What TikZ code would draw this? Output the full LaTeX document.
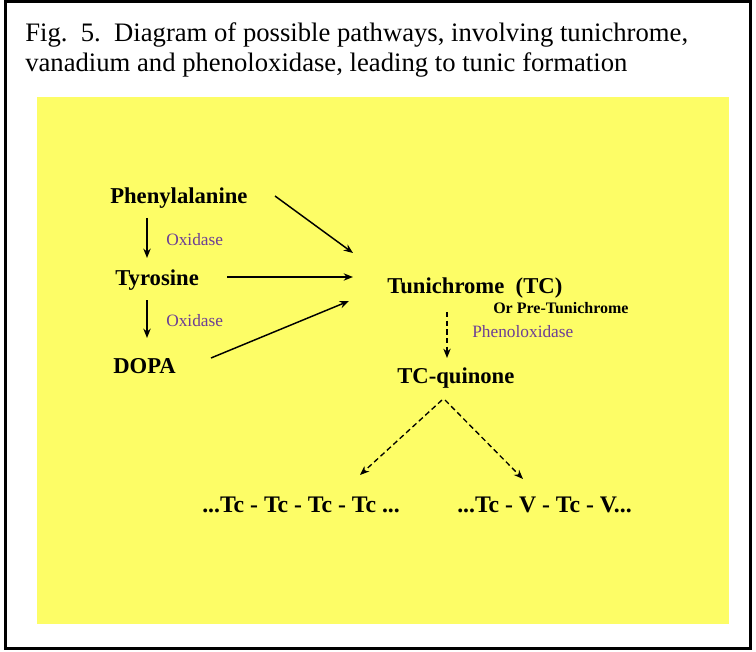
\documentclass[tikz,border=0pt]{standalone}
\usepackage{fontspec}
\setmainfont{Liberation Serif}
\usetikzlibrary{arrows.meta}

\definecolor{slideyellow}{RGB}{253,253,102}
\definecolor{enzpurple}{RGB}{108,62,150}

\begin{document}
\begin{tikzpicture}[
  x=0.75pt, y=-0.75pt,
  >={Stealth[length=7pt,width=5.5pt]},
  caption/.style={font=\fontsize{20}{22}\selectfont, anchor=base west, inner sep=0pt},
  cpd/.style={font=\fontsize{17}{20}\selectfont\bfseries, anchor=base west, inner sep=0pt},
  chain/.style={font=\fontsize{17.8}{20}\selectfont\bfseries, anchor=base west, inner sep=0pt},
  note/.style={font=\fontsize{12}{14}\selectfont\bfseries, anchor=base west, inner sep=0pt},
  enz/.style={font=\fontsize{13}{15}\selectfont, text=enzpurple, anchor=base west, inner sep=0pt},
  flow/.style={->, line width=1.1pt},
  maybe/.style={->, line width=1pt, dash pattern=on 4pt off 2.5pt}
]
  \useasboundingbox (0,0) rectangle (756,652);
  \draw[line width=2.25pt] (5.5,1.5) rectangle (750.5,648.5);

  \node[caption] (cap1) at (25,42) {Fig.\ \ 5.\ \ Diagram of possible pathways, involving tunichrome,};
  \node[caption] (cap2) at (25,72) {vanadium and phenoloxidase, leading to tunic formation};

  \fill[slideyellow] (37,97) rectangle (729,624);

  % compounds
  \node[cpd] (phe)  at (110,204) {Phenylalanine};
  \node[cpd] (tyr)  at (115,285) {Tyrosine};
  \node[cpd] (dopa) at (113,373) {DOPA};
  \node[cpd] (tc)   at (387,293) {Tunichrome\ \ (TC)};
  \node[note] (pre) at (493,313) {Or Pre-Tunichrome};
  \node[cpd] (tcq)  at (397,383) {TC-quinone};
  \node[chain] (poly1) at (202,512) {...Tc - Tc - Tc - Tc ...};
  \node[chain] (poly2) at (457,512) {...Tc - V - Tc - V...};

  % enzymes
  \node[enz] (ox1)  at (166,245) {Oxidase};
  \node[enz] (ox2)  at (166,326) {Oxidase};
  \node[enz] (phox) at (472,337) {Phenoloxidase};

  \draw[flow] ([shift={(37,14)}]phe.base west) -- ([shift={(32,-27)}]tyr.base west);
  \draw[flow] ([shift={(32,15)}]tyr.base west) -- ([shift={(34,-35)}]dopa.base west);

  \draw[flow] ([shift={(165,-8)}]phe.base west) -- ([shift={(-34,-40)}]tc.base west);
  \draw[flow] ([shift={(112,-8)}]tyr.base west) -- ([shift={(-34,-16)}]tc.base west);
  \draw[flow] ([shift={(98,-15)}]dopa.base west) -- ([shift={(-38,8)}]tc.base west);

  \draw[maybe] ([shift={(60,19)}]tc.base west) -- ([shift={(50,-25)}]tcq.base west);
  \draw[maybe] ([shift={(45,17)}]tcq.base west) -- ([shift={(158,-37)}]poly1.base west);
  \draw[maybe] ([shift={(48,17)}]tcq.base west) -- ([shift={(66,-33)}]poly2.base west);
\end{tikzpicture}
\end{document}
